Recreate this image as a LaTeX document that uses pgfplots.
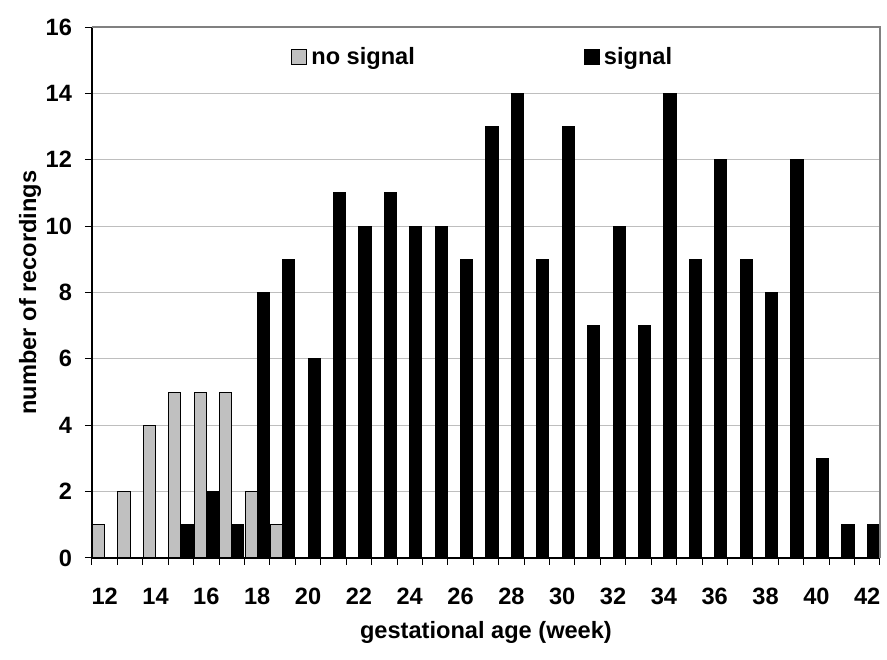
\documentclass[border=0pt]{standalone}
\usepackage{fontspec}
\setmainfont{Liberation Sans}
\usepackage{pgfplots}
\pgfplotsset{compat=1.18}
\definecolor{nosig}{RGB}{192,192,192}
\definecolor{gridc}{RGB}{190,190,190}
\newcommand{\chartfont}{\fontsize{11.8}{14}\selectfont\bfseries}

\begin{document}
\begin{tikzpicture}
\begin{axis}[
    width=394pt, height=265.5pt, scale only axis,
    ybar, bar width=0.48,
    xmin=11.5, xmax=42.5, ymin=0, ymax=16,
    clip=false,
    axis lines=left,
    axis line style={-, line width=0.6pt},
    ytick={0,2,...,16},
    xtick={11.5,12.5,...,42.5}, xticklabels={},
    extra x ticks={12,14,...,42},
    extra x tick style={tick style={draw=none}, grid=none},
    tick align=outside, major tick length=3.5pt,
    tick style={black, line width=0.5pt},
    ymajorgrids, grid style={gridc, line width=0.6pt},
    font=\chartfont,
    ticklabel style={font=\chartfont},
    /pgf/number format/assume math mode=true,
    xticklabel style={yshift=-8pt},
    yticklabel style={xshift=-3pt},
    xlabel={gestational age (week)},
    ylabel={number of recordings},
    xlabel style={at={(axis description cs:0.5,0)}, anchor=center, yshift=-37pt, font=\chartfont},
    ylabel style={at={(axis description cs:0,0.5)}, anchor=center, yshift=31pt, font=\chartfont},
    legend columns=2,
    legend style={draw=none, fill=none, inner sep=0pt, nodes={inner sep=2pt},
        at={(axis description cs:0.2525,0.9435)}, anchor=west, font=\chartfont,
        /tikz/every even column/.append style={column sep=82.5pt}},
]
% no signal
\addplot[fill=nosig, draw=black, line width=0.5pt, bar shift=-0.24,
    legend image code/.code={\draw[fill=nosig, draw=black, line width=0.5pt] (0pt,-3.75pt) rectangle (7.5pt,3.75pt);}]
    coordinates {(12,1) (13,2) (14,4) (15,5) (16,5) (17,5) (18,2) (19,1)};
\addlegendentry{no signal}
% signal
\addplot[fill=black, draw=black, line width=0.5pt, bar shift=0.24,
    legend image code/.code={\draw[fill=black, draw=black] (0pt,-3.75pt) rectangle (7.5pt,3.75pt);}]
    coordinates {(15,1) (16,2) (17,1) (18,8) (19,9) (20,6) (21,11) (22,10) (23,11)
    (24,10) (25,10) (26,9) (27,13) (28,14) (29,9) (30,13) (31,7) (32,10) (33,7)
    (34,14) (35,9) (36,12) (37,9) (38,8) (39,12) (40,3) (41,1) (42,1)};
\addlegendentry{signal}
\draw[black!50, line width=0.6pt] (rel axis cs:0,1) -- (rel axis cs:1,1) -- (rel axis cs:1,0);
\coordinate (bl) at (rel axis cs:0,0);
\coordinate (tr) at (rel axis cs:1,1);
\end{axis}
\path ([shift={(-46pt,-51pt)}]bl) rectangle ([shift={(3.5pt,13.5pt)}]tr);
\end{tikzpicture}
\end{document}
